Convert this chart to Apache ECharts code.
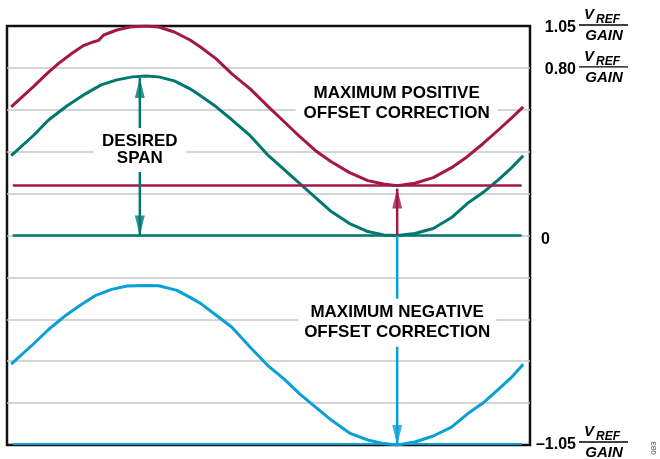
<!DOCTYPE html>
<html>
<head>
<meta charset="utf-8">
<script src="https://cdn.jsdelivr.net/npm/echarts@6/dist/echarts.min.js"></script>
<style>
html,body{margin:0;padding:0;background:#fff;}
#c{width:660px;height:459px;}
</style>
</head>
<body>
<div id="c"></div>
<script>
// ---------- DATA (x: % of time window, y: multiples of VREF/GAIN) ----------
const crimsonWave = [[0.8,0.645],[5,0.745],[8,0.82],[10,0.865],[12.5,0.915],[14.5,0.95],[16.5,0.97],[17.5,0.978],[18.5,1.005],[21,1.03],[23.5,1.045],[26.5,1.05],[29,1.045],[32,1.02],[35,0.98],[37,0.945],[40,0.885],[43,0.81],[46.5,0.735],[50,0.645],[53,0.57],[56,0.495],[59,0.425],[62,0.37],[65.5,0.315],[69,0.275],[72,0.258],[74.6,0.25],[78,0.262],[81.5,0.29],[85,0.34],[88,0.395],[91,0.46],[94,0.53],[96.5,0.59],[98.7,0.645]];
const tealWave = [[0.8,0.40],[5,0.50],[8,0.58],[11.5,0.65],[15,0.71],[18,0.755],[21,0.78],[24,0.795],[26.5,0.80],[29,0.795],[32,0.775],[35,0.735],[37,0.70],[40,0.645],[43,0.58],[46.5,0.50],[50,0.40],[53,0.33],[56,0.26],[59,0.19],[62,0.12],[65.5,0.06],[69,0.02],[72,0.003],[74.6,0.0],[78,0.01],[81.5,0.035],[85,0.09],[88,0.16],[91,0.215],[94,0.28],[96.5,0.34],[98.7,0.40]];
const blueWave = [[0.8,-0.645],[5,-0.545],[8,-0.47],[11,-0.405],[14,-0.35],[17,-0.30],[20,-0.27],[23,-0.253],[26.5,-0.25],[29,-0.252],[32.5,-0.275],[35,-0.31],[37,-0.34],[40,-0.40],[43,-0.46],[46.5,-0.56],[50,-0.655],[53,-0.72],[56,-0.795],[59,-0.86],[62,-0.925],[65.5,-0.99],[69,-1.025],[72,-1.043],[74.6,-1.05],[78,-1.035],[81.5,-1.005],[85,-0.96],[88,-0.895],[91,-0.84],[94,-0.77],[96.5,-0.71],[98.7,-0.645]];

const levelX = [1.1, 98.4];              // extent of the horizontal reference lines
const crimsonLevel = 0.25;               // maximum positive offset level
const tealLevel = 0;                     // zero level
const blueLevel = -1.045;                // maximum negative offset level
const spanX = 25.4;                      // desired span arrow position
const spanTop = 0.79;
const offsetX = 74.6;                    // offset correction arrows position
const crimsonArrowTip = 0.235;
const blueArrowTip = -1.05;

const annotationTexts = ['DESIRED\nSPAN', 'MAXIMUM POSITIVE\nOFFSET CORRECTION', 'MAXIMUM NEGATIVE\nOFFSET CORRECTION'];
const annotationX = [25.4, 74.5, 74.6];
const annotationY = [0.429, 0.665, -0.437];

const yLabelValues = [1.05, 0.80, 0, -1.05];
const yLabelTexts = ['1.05', '0.80', '0', '\u20131.05'];
const yLabelFraction = [true, true, false, true];
const figureId = '083';

// ---------- CHART ----------
const FONT = '"Liberation Sans", Arial, Helvetica, sans-serif';
const CRIMSON = '#A3174B', TEAL = '#00786F', BLUE = '#0A9FD6';
const chart = echarts.init(document.getElementById('c'), null, {renderer: 'canvas'});

function lineSeries(data, color, width, z) {
  return {type: 'line', data: data, symbol: 'none', smooth: false, silent: true,
    lineStyle: {color: color, width: width, cap: 'butt', join: 'round'}, itemStyle: {color: color}, z: z || 2};
}
function hLine(y, color, width) {
  return lineSeries([[levelX[0], y], [levelX[1], y]], color, width, 3);
}
function vLine(x, y0, y1, color) {
  return lineSeries([[x, y0], [x, y1]], color, 2.5, 4);
}
function head(x, y, color, up) {
  return {value: [x, y], symbolRotate: up ? 0 : 180, symbolOffset: [0, up ? 10 : -10], itemStyle: {color: color}};
}

const labelLH = [17, 20, 20];
const labelPad = [[5, 8], [1, 8], [4, 6]];

const option = {
  animation: false,
  grid: {left: 7, top: 26, right: 130, bottom: 14, show: true, borderColor: '#111', borderWidth: 2.5, backgroundColor: 'transparent'},
  xAxis: {type: 'value', min: 0, max: 100, show: false},
  yAxis: {type: 'value', min: -1.05, max: 1.05, interval: 0.21,
    axisLine: {show: false}, axisTick: {show: false}, axisLabel: {show: false},
    splitLine: {show: true, showMinLine: false, showMaxLine: false, lineStyle: {color: '#c6c6c6', width: 1.5}}},
  series: [
    lineSeries(crimsonWave, CRIMSON, 3),
    lineSeries(tealWave, TEAL, 3),
    lineSeries(blueWave, BLUE, 3),
    hLine(crimsonLevel, CRIMSON, 2.5),
    hLine(tealLevel, TEAL, 2.5),
    hLine(blueLevel, BLUE, 2),
    vLine(spanX, tealLevel, spanTop, TEAL),
    vLine(offsetX, tealLevel, crimsonArrowTip, CRIMSON),
    vLine(offsetX, tealLevel, blueArrowTip, BLUE),
    {type: 'scatter', silent: true, z: 5, symbol: 'triangle', symbolSize: [10, 20],
      data: [
        head(spanX, spanTop, TEAL, true),
        head(spanX, tealLevel, TEAL, false),
        head(offsetX, crimsonArrowTip, CRIMSON, true),
        head(offsetX, blueArrowTip, BLUE, false)
      ]},
    {type: 'scatter', silent: true, z: 20, symbolSize: 0, itemStyle: {color: '#fff', opacity: 1},
      data: annotationTexts.map(function (t, i) {
        return {value: [annotationX[i], annotationY[i]], name: t,
          label: {lineHeight: labelLH[i], padding: labelPad[i]}};
      }),
      label: {show: true, position: 'inside', formatter: function (p) { return p.data.name; },
        color: '#000', opacity: 1, textBorderWidth: 0, textBorderColor: 'transparent',
        fontFamily: FONT, fontWeight: 'bold', fontSize: 17, align: 'center', verticalAlign: 'middle',
        backgroundColor: '#fff'}}
  ]
};
chart.setOption(option);

// right-hand value labels, placed through the y axis scale
const fracNudge = [-1, -9, 4, -3];
const graphics = [];
yLabelValues.forEach(function (v, i) {
  const py = chart.convertToPixel({yAxisIndex: 0}, v) + fracNudge[i];
  if (yLabelFraction[i]) {
    graphics.push({type: 'text', x: 576, y: py + 3, style: {text: yLabelTexts[i], fill: '#000', font: 'bold 16px ' + FONT, align: 'right', verticalAlign: 'middle'}});
    graphics.push({type: 'line', shape: {x1: 579, y1: py, x2: 628, y2: py}, style: {stroke: '#000', lineWidth: 1.3}});
    graphics.push({type: 'text', x: 584, y: py - 10, style: {text: 'V', fill: '#000', font: 'italic bold 15px ' + FONT, align: 'left', verticalAlign: 'middle'}});
    graphics.push({type: 'text', x: 596, y: py - 5.5, style: {text: 'REF', fill: '#000', font: 'italic bold 12px ' + FONT, align: 'left', verticalAlign: 'middle'}});
    graphics.push({type: 'text', x: 604, y: py + 11, style: {text: 'GAIN', fill: '#000', font: 'italic bold 15px ' + FONT, align: 'center', verticalAlign: 'middle'}});
  } else {
    graphics.push({type: 'text', x: 541, y: py, style: {text: yLabelTexts[i], fill: '#000', font: 'bold 16px ' + FONT, align: 'left', verticalAlign: 'middle'}});
  }
});
graphics.push({type: 'text', x: 654, y: 448, rotation: Math.PI / 2, style: {text: figureId, fill: '#555', font: '8px ' + FONT, align: 'center', verticalAlign: 'middle'}});
chart.setOption({graphic: graphics});
</script>
</body>
</html>
